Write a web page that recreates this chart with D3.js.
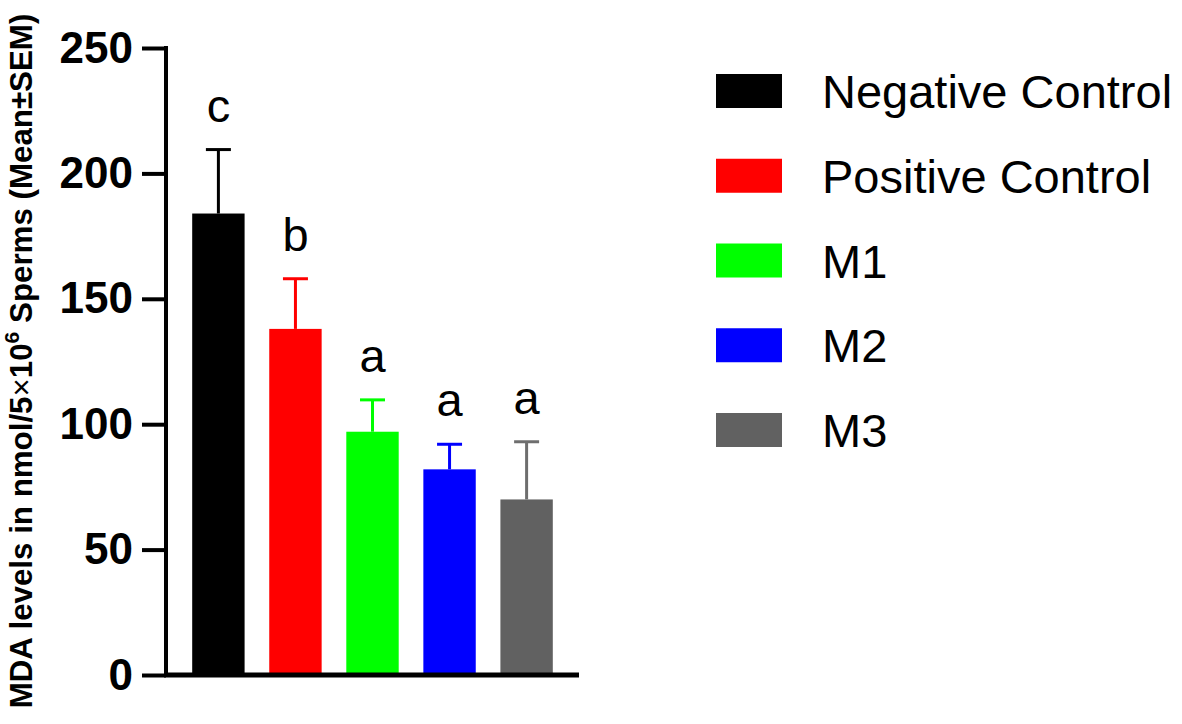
<!DOCTYPE html>
<html>
<head>
<meta charset="utf-8">
<script src="https://cdn.jsdelivr.net/npm/d3@7"></script>
<style>
  html, body { margin: 0; padding: 0; background: #fff; }
  svg { display: block; font-family: Arial, "Liberation Sans", Helvetica, sans-serif; }
</style>
</head>
<body>
<svg id="chart" width="1182" height="724"></svg>
<script>
// ---- data ----
const categories = ["Negative Control", "Positive Control", "M1", "M2", "M3"];
const means = [184, 138, 97, 82, 70];
const sems = [25.5, 20, 12.7, 10, 23];
const letters = ["c", "b", "a", "a", "a"];
const colors = ["#000000", "#ff0000", "#00ff00", "#0000ff", "#616161"];
const errColors = ["#000000", "#ff0000", "#00ff00", "#0000ff", "#6e6e6e"];
const yTicks = [0, 50, 100, 150, 200, 250];

// ---- layout ----
const svg = d3.select("#chart");
const axisX = 166, yTop = 48, yBottom = 675, xRight = 579;

const y = d3.scaleLinear().domain([0, 250]).range([yBottom, yTop]);
const x = d3.scaleBand().domain(categories).range([axisX, xRight])
  .paddingInner(0.32).paddingOuter(0.34);

// bars
svg.append("g").selectAll("rect").data(categories).join("rect")
  .attr("x", d => x(d))
  .attr("y", (d, i) => y(means[i]))
  .attr("width", x.bandwidth())
  .attr("height", (d, i) => y(0) - y(means[i]))
  .attr("fill", (d, i) => colors[i]);

// error bars (upper only)
const capW = 25;
const eb = svg.append("g").selectAll("g").data(categories).join("g");
eb.append("line")
  .attr("x1", d => x(d) + x.bandwidth() / 2)
  .attr("x2", d => x(d) + x.bandwidth() / 2)
  .attr("y1", (d, i) => y(means[i]))
  .attr("y2", (d, i) => y(means[i] + sems[i]))
  .attr("stroke", (d, i) => errColors[i]).attr("stroke-width", 3);
eb.append("line")
  .attr("x1", d => x(d) + x.bandwidth() / 2 - capW / 2)
  .attr("x2", d => x(d) + x.bandwidth() / 2 + capW / 2)
  .attr("y1", (d, i) => y(means[i] + sems[i]))
  .attr("y2", (d, i) => y(means[i] + sems[i]))
  .attr("stroke", (d, i) => errColors[i]).attr("stroke-width", 3);

// significance letters
svg.append("g").selectAll("text").data(categories).join("text")
  .attr("x", d => x(d) + x.bandwidth() / 2)
  .attr("y", (d, i) => y(means[i] + sems[i]) - 28)
  .attr("text-anchor", "middle")
  .attr("font-size", 47)
  .attr("fill", "#000")
  .text((d, i) => letters[i]);

// y axis
const yAxis = d3.axisLeft(y).tickValues(yTicks).tickSize(24).tickPadding(9).tickSizeOuter(0);
const gy = svg.append("g").attr("transform", `translate(${axisX},0)`).call(yAxis);
gy.select(".domain").attr("stroke", "#000").attr("stroke-width", 4)
  .attr("d", `M0,${yTop - 2}V${yBottom + 2}`);
gy.selectAll(".tick line").attr("stroke", "#000").attr("stroke-width", 4);
gy.selectAll(".tick text")
  .attr("font-size", 44).attr("font-weight", "bold").attr("fill", "#000")
  .attr("font-family", "Arial, 'Liberation Sans', sans-serif");

// x axis line
svg.append("line")
  .attr("x1", axisX - 2).attr("x2", xRight)
  .attr("y1", y(0)).attr("y2", y(0))
  .attr("stroke", "#000").attr("stroke-width", 5);

// y axis title
const title = svg.append("text")
  .attr("transform", `translate(32,361) rotate(-90)`)
  .attr("text-anchor", "middle")
  .attr("font-size", 31.3).attr("font-weight", "bold").attr("fill", "#000");
title.append("tspan").text("MDA levels in nmol/5");
title.append("tspan").attr("font-weight", "normal").text("×");
title.append("tspan").text("10");
title.append("tspan").attr("font-size", 21).attr("dy", -13).text("6");
title.append("tspan").attr("dy", 13).text(" Sperms (Mean±SEM)");

// legend
const legX = 716, legY = 74, legStep = 84.75;
const leg = svg.append("g").selectAll("g").data(categories).join("g")
  .attr("transform", (d, i) => `translate(${legX},${legY + i * legStep})`);
leg.append("rect").attr("width", 66).attr("height", 34).attr("fill", (d, i) => colors[i]);
leg.append("text")
  .attr("x", 106).attr("y", 34)
  .attr("font-size", 47).attr("fill", "#000")
  .text(d => d);
</script>
</body>
</html>
